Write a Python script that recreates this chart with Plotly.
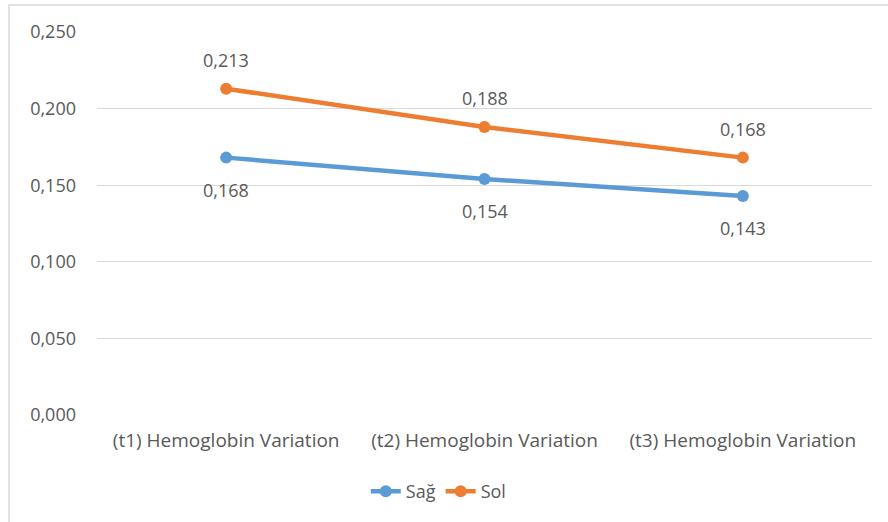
import plotly.graph_objects as go

categories = ["(t1) Hemoglobin Variation", "(t2) Hemoglobin Variation", "(t3) Hemoglobin Variation"]
sag = [0.168, 0.154, 0.143]
sol = [0.213, 0.188, 0.168]
y_ticks = [0.0, 0.05, 0.10, 0.15, 0.20, 0.25]
y_tick_labels = ["0,000", "0,050", "0,100", "0,150", "0,200", "0,250"]

BLUE = "#5B9BD5"
ORANGE = "#ED7D31"
TEXT = "#595959"
GRID = "#D9D9D9"
FONT = "Open Sans"


def fmt(v):
    return f"{v:.3f}".replace(".", ",")


fig = go.Figure()
fig.add_trace(go.Scatter(x=categories, y=sag, name="Sağ", mode="lines+markers",
                         line=dict(color=BLUE, width=4.5), marker=dict(size=12, color=BLUE)))
fig.add_trace(go.Scatter(x=categories, y=sol, name="Sol", mode="lines+markers",
                         line=dict(color=ORANGE, width=4.5), marker=dict(size=12, color=ORANGE)))

annotations = []
for c, v in zip(categories, sag):
    annotations.append(dict(x=c, y=v, text=fmt(v), showarrow=False, yshift=-32,
                            font=dict(family=FONT, size=18, color=TEXT)))
for c, v in zip(categories, sol):
    annotations.append(dict(x=c, y=v, text=fmt(v), showarrow=False, yshift=29,
                            font=dict(family=FONT, size=18, color=TEXT)))

fig.update_layout(
    width=888, height=522,
    margin=dict(l=97, r=16, t=32, b=107),
    paper_bgcolor="white", plot_bgcolor="white",
    font=dict(family=FONT, size=18, color=TEXT),
    showlegend=True,
    legend=dict(orientation="h", x=0.441, y=-0.20, xanchor="center", yanchor="middle",
                font=dict(family=FONT, size=18, color=TEXT), itemwidth=30,
                traceorder="normal"),
    annotations=annotations,
    shapes=[dict(type="rect", xref="paper", yref="paper",
                 x0=-0.1135, x1=1.1, y0=-0.5, y1=1.0705,
                 line=dict(color=GRID, width=1.5), layer="below")],
)
fig.update_xaxes(type="category", range=[-0.5, 2.5], showgrid=False, showline=False,
                 ticks="", ticklabelstandoff=12, tickfont=dict(family=FONT, size=19, color=TEXT))
fig.update_yaxes(range=[0, 0.25], tickvals=y_ticks, ticktext=y_tick_labels,
                 showgrid=True, gridcolor=GRID, gridwidth=1.3, zeroline=False,
                 showline=False, ticks="", ticklabelstandoff=20,
                 tickfont=dict(family=FONT, size=18, color=TEXT))

fig.write_html("out.html")
